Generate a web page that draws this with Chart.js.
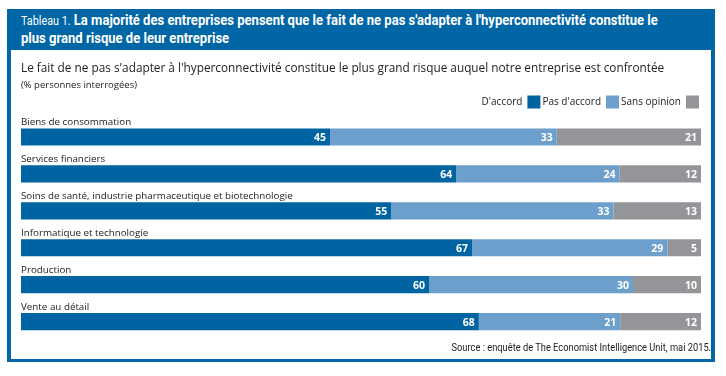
<!DOCTYPE html>
<html>
<head>
<meta charset="utf-8">
<script src="https://cdn.jsdelivr.net/npm/chart.js@4.4.0/dist/chart.umd.min.js"></script>
<style>
  body { margin: 0; background: #fff; width: 726px; height: 376px; position: relative; overflow: hidden; }
  #frame { position: absolute; left: 7px; top: 9px; width: 708px; height: 353px; background: #0066a5; }
  #head { position: absolute; left: 14px; top: 3px; width: 800px; color: #fff; white-space: nowrap;
          font-family: Roboto, sans-serif; font-size: 14.5px; font-weight: bold; line-height: 18px;
          transform: scaleX(0.9); transform-origin: 0 0; }
  #head .num { font-weight: normal; font-size: 12px; }
  #panel { position: absolute; left: 4px; top: 41px; width: 700px; height: 309px; background: #fff; }
  #src { position: absolute; right: 0px; top: 292px; font-family: Roboto, sans-serif; white-space: nowrap;
         font-size: 10px; color: #222; transform: scaleX(0.93); transform-origin: 100% 0; }
  canvas { position: absolute; left: 0; top: 0; }
</style>
</head>
<body>
<div id="frame">
  <div id="head"><span class="num">Tableau 1.</span> La majorité des entreprises pensent que le fait de ne pas s'adapter à l'hyperconnectivité constitue le<br>plus grand risque de leur entreprise</div>
  <div id="panel">
    <div style="position:absolute;left:0;top:0;width:700px;height:309px"><canvas id="graphic"></canvas></div>
    <div id="src">Source : enquête de The Economist Intelligence Unit, mai 2015.</div>
  </div>
</div>
<script>
// Données du graphique
var secteurs = ['Biens de consommation', 'Services financiers',
  'Soins de santé, industrie pharmaceutique et biotechnologie',
  'Informatique et technologie', 'Production', 'Vente au détail'];
var accord = [45, 64, 55, 67, 60, 68];
var pasAccord = [33, 24, 33, 29, 30, 21];
var sansOpinion = [21, 12, 13, 5, 10, 12];

var police = "'Open Sans', sans-serif";

// chaque barre occupe toute la largeur (total de la ligne = 100 %)
function part(serie) {
  return serie.map(function (v, i) {
    return v / (accord[i] + pasAccord[i] + sansOpinion[i]) * 100;
  });
}
var brut = [accord, pasAccord, sansOpinion];

// étiquettes : valeurs dans les barres et noms des secteurs au-dessus
var etiquettes = {
  id: 'etiquettes',
  afterDatasetsDraw: function (chart) {
    var ctx = chart.ctx;
    ctx.save();
    chart.data.datasets.forEach(function (ds, d) {
      chart.getDatasetMeta(d).data.forEach(function (bar, i) {
        ctx.fillStyle = '#fff';
        ctx.font = "bold 10.5px " + police;
        ctx.textAlign = 'right';
        ctx.textBaseline = 'middle';
        ctx.fillText(brut[d][i], bar.x - 4, bar.y + 1);
        if (d === 0) {
          ctx.fillStyle = '#222';
          ctx.font = "9.8px " + police;
          ctx.textAlign = 'left';
          ctx.textBaseline = 'alphabetic';
          ctx.fillText(secteurs[i], chart.chartArea.left, bar.y - bar.height / 2 - 3);
        }
      });
    });
    ctx.restore();
  }
};

var ctx = document.getElementById('graphic').getContext('2d');

var donnees = {
  labels: secteurs,
  datasets: [
    { label: "D'accord", data: part(accord), backgroundColor: '#0064a3' },
    { label: "Pas d'accord", data: part(pasAccord), backgroundColor: '#6c9fcc' },
    { label: 'Sans opinion', data: part(sansOpinion), backgroundColor: '#939598' }
  ]
};

var opciones = {
  indexAxis: 'y',
  responsive: true,
  maintainAspectRatio: false,
  animation: false,
  layout: { padding: { left: 10, right: 10, top: 11, bottom: 19 } },
  datasets: { bar: { categoryPercentage: 1, barPercentage: 0.465, borderWidth: 0 } },
  scales: {
    x: { stacked: true, min: 0, max: 100, display: false },
    y: { stacked: true, display: false }
  },
  plugins: {
    title: {
      display: true, align: 'start', color: '#222',
      text: "Le fait de ne pas s'adapter à l'hyperconnectivité constitue le plus grand risque auquel notre entreprise est confrontée",
      font: { family: police, size: 11.8, weight: 'normal' },
      padding: { top: 1, bottom: 3 }
    },
    subtitle: {
      display: true, align: 'start', color: '#222',
      text: '(% personnes interrogées)',
      font: { family: police, size: 9.5 },
      padding: { top: 0, bottom: 3 }
    },
    legend: {
      position: 'top', align: 'start', rtl: true, reverse: true,
      labels: { boxWidth: 13, boxHeight: 13, padding: 2, color: '#222',
        font: { family: police, size: 10 } }
    },
    tooltip: { enabled: false }
  }
};

var miGrafico = new Chart(ctx, {
  type: 'bar',
  data: donnees,
  options: opciones,
  plugins: [etiquettes]
});
</script>
</body>
</html>
